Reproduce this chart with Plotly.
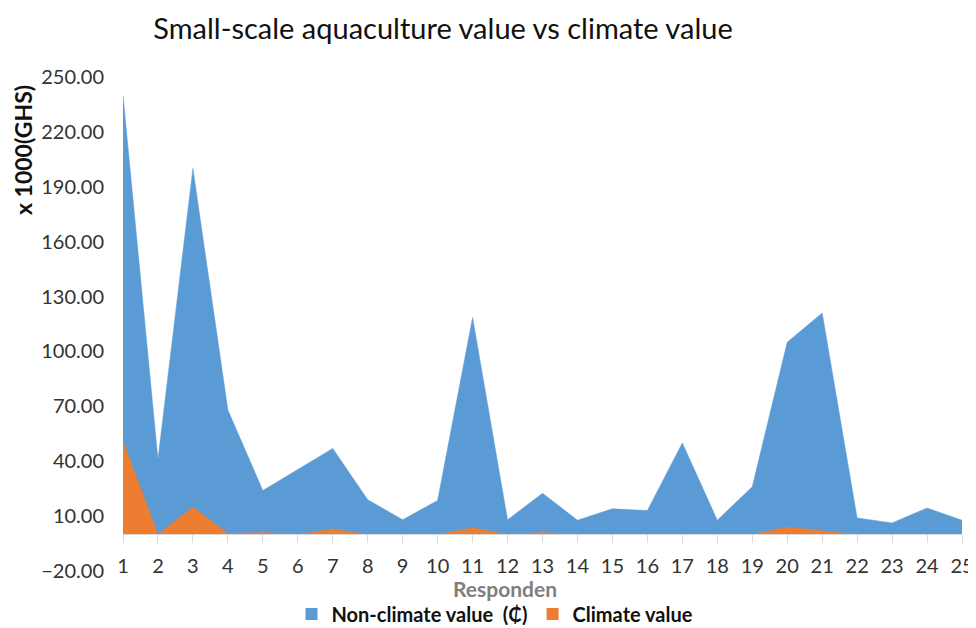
import plotly.graph_objects as go

respondents = list(range(1, 26))
non_climate = [240, 41, 200, 68, 24, 35.5, 47, 19, 8, 18.6, 118.6, 8, 22.5, 7.8,
               14, 13, 50, 7.8, 26, 105, 121, 9, 6.3, 14.4, 7.8]
climate = [51, 0, 15, 0.5, 1, 0, 3, 0, 0, 0, 3.6, 0, 1, 0, 0, 0, 0, 0, 0, 4, 2, 0, 0, 0, 0]

BLUE = "#5B9BD5"
ORANGE = "#ED7D31"
FONT = "Lato"

# the page body adds an 8px margin, so the figure is 8px smaller than the window
W, H = 968, 620
L, R, T, B = 115, 14, 69, 57
PW, PH = W - L - R, H - T - B

fig = go.Figure()
fig.add_trace(go.Scatter(x=respondents, y=non_climate, mode="lines", fill="tozeroy",
                         fillcolor=BLUE, line=dict(color=BLUE, width=0.5), showlegend=False,
                         hoverinfo="x+y"))
fig.add_trace(go.Scatter(x=respondents, y=climate, mode="lines", fill="tozeroy",
                         fillcolor=ORANGE, line=dict(color=ORANGE, width=0.5), showlegend=False,
                         hoverinfo="x+y"))
# legend entries
fig.add_trace(go.Scatter(x=[None], y=[None], mode="markers", name="Non-climate value  (₵)",
                         marker=dict(symbol="square", size=12, color=BLUE)))
fig.add_trace(go.Scatter(x=[None], y=[None], mode="markers", name="Climate value",
                         marker=dict(symbol="square", size=12, color=ORANGE)))

ymin, ymax = -20, 250
fig.update_layout(
    width=W, height=H,
    margin=dict(l=L, r=R, t=T, b=B, autoexpand=False),
    paper_bgcolor="white", plot_bgcolor="white",
    font=dict(family=FONT, color="#404040"),
    title=dict(text="Small-scale aquaculture value vs climate value",
               font=dict(family=FONT, size=29, color="#111111"),
               x=435 / W, xanchor="center", y=1 - 21 / H, yanchor="middle"),
    xaxis=dict(range=[1, 25], tickvals=respondents, ticktext=[str(v) for v in respondents],
               anchor="free", position=(0 - ymin) / (ymax - ymin),
               showline=True, linecolor="#d9d9d9", linewidth=1,
               ticks="outside", ticklen=8, tickcolor="#d9d9d9",
               ticklabelstandoff=6,
               showgrid=False, zeroline=False, automargin=False,
               tickfont=dict(family=FONT, size=20, color="#333333")),
    yaxis=dict(range=[ymin, ymax], tick0=-20, dtick=30, tickformat=".2f",
               showgrid=False, zeroline=False, showline=False,
               ticklabelstandoff=18, automargin=False,
               tickfont=dict(family=FONT, size=20, color="#333333")),
    legend=dict(orientation="h", x=(487 - L) / PW, xanchor="center",
                yref="container", y=1 - 606 / H, yanchor="middle",
                font=dict(family=FONT, size=20, color="#111111", weight="bold"),
                itemwidth=30, tracegroupgap=0),
    showlegend=True,
)
fig.add_annotation(text="x 1000(GHS)", textangle=-90, xref="paper", yref="paper",
                   x=0, xshift=15 - L, y=(H - B - 142) / PH, xanchor="center", yanchor="middle",
                   showarrow=False, font=dict(family=FONT, size=23, color="#111111", weight="bold"))
fig.add_annotation(text="Responden", xref="paper", yref="paper",
                   x=(497 - L) / PW, y=(H - B - 580) / PH, xanchor="center", yanchor="middle",
                   showarrow=False, font=dict(family=FONT, size=21, color="#7f7f7f", weight="bold"))

fig.write_html("out.html")
